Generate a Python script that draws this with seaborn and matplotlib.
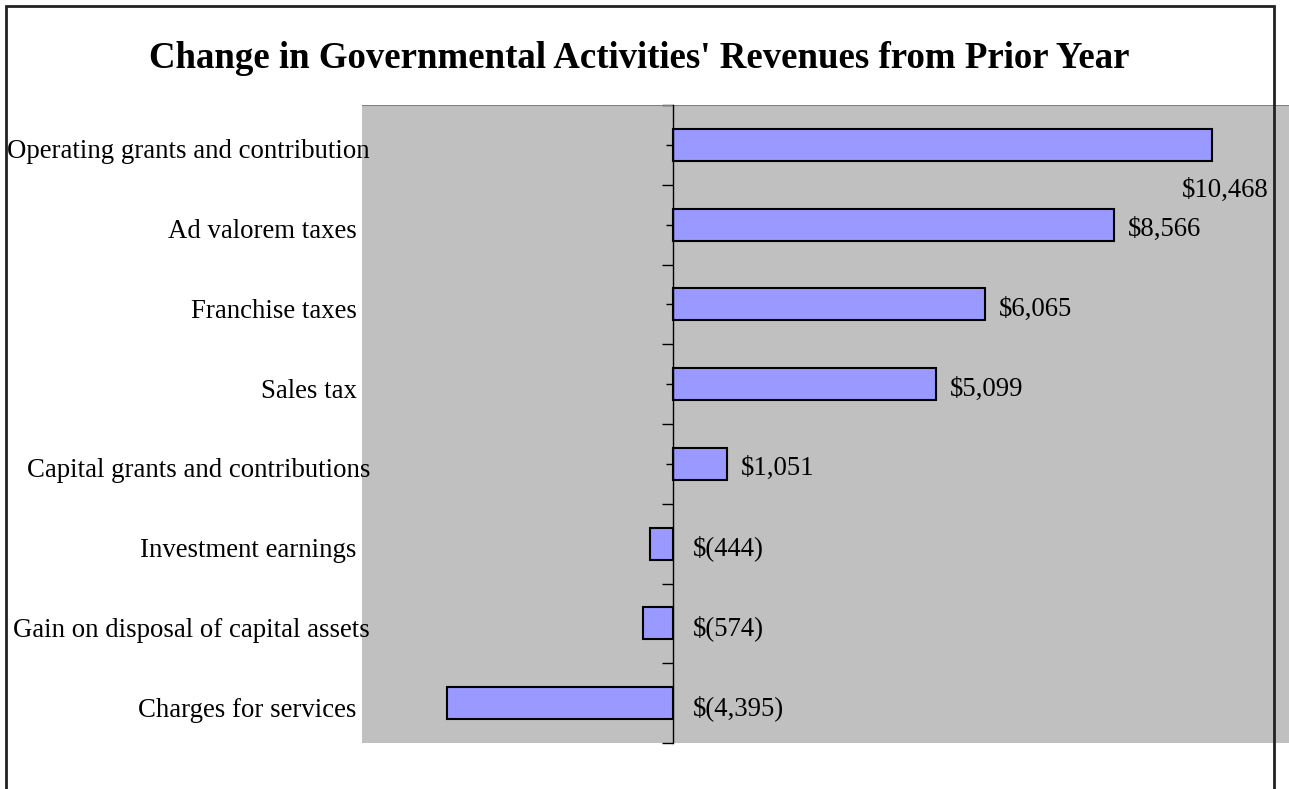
import numpy as np
import pandas as pd
import matplotlib
matplotlib.use('Agg')
import matplotlib.pyplot as plt
import matplotlib.patches as mpatches
import seaborn as sns

# ==============================
# 1. Data
# ==============================
categories = ['Operating grants and contribution', 'Ad valorem taxes  ', 'Franchise taxes  ',
              'Sales tax  ', 'Capital grants and contributions', 'Investment earnings  ',
              'Gain on disposal of capital assets', 'Charges for services  ']
changes = [10468, 8566, 6065, 5099, 1051, -444, -574, -4395]
value_labels = ['$10,468', '$8,566', '$6,065', '$5,099', '$1,051', '$(444)', '$(574)', '$(4,395)']

df = pd.DataFrame({'category': categories, 'change': changes})

# ==============================
# 2. Figure setup
# ==============================
sns.set_style('white')
plt.rcParams['font.family'] = ['Liberation Serif', 'DejaVu Serif']
plt.rcParams['text.color'] = 'black'

W, H = 1289, 789
fig = plt.figure(figsize=(W / 100, H / 100), dpi=100)
ax = fig.add_axes([362 / W, 1 - 743 / H, (1289 - 362) / W, (743 - 105) / H])
ax.set_facecolor('#c0c0c0')

sns.barplot(data=df, y='category', x='change', orient='h', color='#9999ff',
            edgecolor='black', linewidth=1.5, width=0.4, saturation=1, ax=ax)

xmin, xmax = -6040, 11960
ax.set_xlim(xmin, xmax)
n = len(categories)
ax.set_ylim(n - 0.5, -0.5)

# y axis at zero with ticks between categories
for side in ['top', 'right', 'bottom']:
    ax.spines[side].set_visible(False)
ax.spines['left'].set_position(('data', 0))
ax.spines['left'].set_color('black')
ax.spines['left'].set_linewidth(1)
ax.set_yticks(np.arange(n + 1) - 0.5)
ax.set_yticks(np.arange(n), minor=True)
ax.tick_params(axis='y', which='major', direction='out', length=8, width=1, color='black',
               left=True, labelleft=False)
ax.tick_params(axis='y', which='minor', direction='out', length=5, width=1, color='black',
               left=True, labelleft=False)
ax.set_xticks([])
ax.set_xlabel('')
ax.set_ylabel('')
ax.axhline(-0.5, color='#808080', lw=1.5)

# category labels, right-aligned left of the plot area
fs = 19.3
for i, cat in enumerate(categories):
    ax.annotate(cat, (370 / W, i), xycoords=('figure fraction', 'data'),
                xytext=(0, -5), textcoords='offset points',
                ha='right', va='center', fontsize=fs, annotation_clip=False)

# value labels
for i, (v, lab) in enumerate(zip(changes, value_labels)):
    if v >= 0:
        if v > 0.8 * xmax:
            # no room at the bar end: put it under the bar, against the right edge
            ax.annotate(lab, (xmax, i + 0.5), xytext=(-15, -4), textcoords='offset points',
                        ha='right', va='center', fontsize=fs)
        else:
            ax.annotate(lab, (v, i), xytext=(10, -3.5), textcoords='offset points',
                        ha='left', va='center', fontsize=fs)
    else:
        ax.annotate(lab, (0, i), xytext=(14, -3.5), textcoords='offset points',
                    ha='left', va='center', fontsize=fs)

# title
fig.text(639 / W, 1 - 58 / H, "Change in Governmental Activities' Revenues from Prior Year",
         ha='center', va='center', fontsize=26.6, fontweight='bold')

# outer chart border
border = mpatches.Rectangle((6 / W, -0.1), (1274 - 6) / W, 1.1 - 6 / H,
                            transform=fig.transFigure, fill=False, edgecolor='#222222',
                            linewidth=2, zorder=10)
fig.add_artist(border)

fig.savefig('out.png', dpi=100)
plt.close()
